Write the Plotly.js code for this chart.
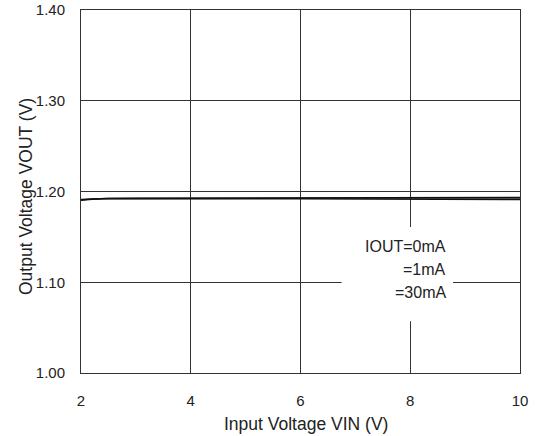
<!DOCTYPE html>
<html>
<head>
<meta charset="utf-8">
<script src="https://cdn.plot.ly/plotly-3.0.1.min.js"></script>
<style>html,body{margin:0;padding:0;background:#fff;}#chart{width:535px;height:436px;}</style>
</head>
<body>
<div id="chart"></div>
<script>
var vin = [2, 2.2, 2.5, 3, 4, 5, 6, 7, 8, 9, 10];
var vout0mA = [1.1912, 1.1920, 1.1925, 1.1926, 1.1927, 1.1928, 1.1930, 1.1931, 1.1932, 1.1934, 1.1936];
var vout1mA = [1.1908, 1.1918, 1.1923, 1.1924, 1.1925, 1.1925, 1.1926, 1.1926, 1.1927, 1.1927, 1.1928];
var vout30mA = [1.1902, 1.1914, 1.1921, 1.1922, 1.1921, 1.1920, 1.1918, 1.1916, 1.1914, 1.1912, 1.1910];
var seriesNames = ["IOUT=0mA", "=1mA", "=30mA"];
var xTicks = [2, 4, 6, 8, 10];
var yTicks = [1.00, 1.10, 1.20, 1.30, 1.40];
var yTickText = ["1.00", "1.10", "1.20", "1.30", "1.40"];
var xTitle = "Input Voltage VIN (V)";
var yTitle = "Output Voltage VOUT (V)";

var allY = [vout0mA, vout1mA, vout30mA];
var traces = allY.map(function (ys, i) {
  return {
    x: vin, y: ys, type: "scatter", mode: "lines", name: seriesNames[i],
    line: {color: "#111", width: 1.3}, showlegend: false
  };
});

var fam = "Liberation Sans, Arial, sans-serif";
var tickFont = {family: fam, size: 15, color: "#222"};
var titleFont = {family: fam, size: 17.5, color: "#222"};
var labelFont = {family: fam, size: 16, color: "#222"};
var labelY = [1.1394, 1.1140, 1.0887];

var annotations = seriesNames.map(function (t, i) {
  return {
    xref: "x", yref: "y", x: 8.68, y: labelY[i], xanchor: "right", yanchor: "middle",
    align: "right", showarrow: false, text: t, font: labelFont
  };
});
annotations.push({
  xref: "paper", yref: "paper", x: 0.5125, y: -0.1405, xanchor: "center", yanchor: "middle",
  showarrow: false, text: xTitle, font: titleFont
});
annotations.push({
  xref: "paper", yref: "paper", x: -0.1253, y: 0.4876, xanchor: "center", yanchor: "middle",
  showarrow: false, text: yTitle, font: titleFont, textangle: -90
});

var layout = {
  width: 535, height: 436,
  margin: {l: 81, r: 15, t: 10, b: 63},
  paper_bgcolor: "#fff", plot_bgcolor: "#fff",
  font: tickFont,
  xaxis: {
    range: [2, 10], tickvals: xTicks, ticktext: xTicks.map(String), tickfont: tickFont,
    showgrid: true, gridcolor: "#333", gridwidth: 1,
    zeroline: false, showline: true, linecolor: "#333", linewidth: 1, mirror: true,
    ticks: "", ticklabelstandoff: 14
  },
  yaxis: {
    range: [1.00, 1.40], tickvals: yTicks, ticktext: yTickText, tickfont: tickFont,
    showgrid: true, gridcolor: "#333", gridwidth: 1,
    zeroline: false, showline: true, linecolor: "#333", linewidth: 1, mirror: true,
    ticks: "", ticklabelstandoff: 12
  },
  shapes: [{
    type: "rect", xref: "x", yref: "y", layer: "above",
    x0: 6.75, x1: 8.78, y0: 1.057, y1: 1.161,
    fillcolor: "#fff", line: {width: 0}
  }],
  annotations: annotations
};

Plotly.newPlot("chart", traces, layout, {displayModeBar: false, staticPlot: true});
</script>
</body>
</html>
